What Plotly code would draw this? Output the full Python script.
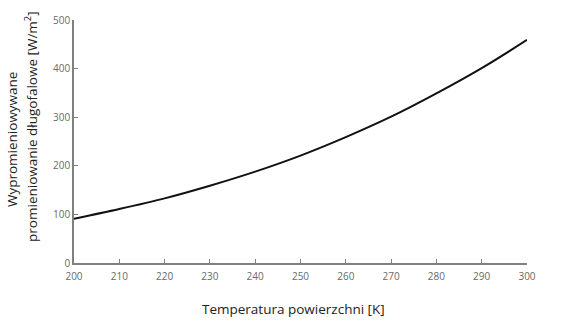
import plotly.graph_objects as go

# Surface temperature [K] and emitted longwave radiation [W/m²]
temperatura = [200, 210, 220, 230, 240, 250, 260, 270, 280, 290, 300]
promieniowanie = [91, 111, 133, 159, 188, 221, 259, 301, 349, 401, 459]

x_ticks = [200, 210, 220, 230, 240, 250, 260, 270, 280, 290, 300]
y_ticks = [0, 100, 200, 300, 400, 500]

axis_color = "#808080"
tick_font = dict(family="Open Sans, DejaVu Sans, sans-serif", size=10, color="#6a6a6a")
title_font = dict(family="Open Sans, DejaVu Sans, sans-serif", size=13.5, color="#222222")

fig = go.Figure()
fig.add_trace(go.Scatter(
    x=temperatura, y=promieniowanie, mode="lines",
    line=dict(color="#111111", width=2, shape="spline"),
    showlegend=False, hoverinfo="skip",
))

fig.update_layout(
    width=570, height=324,
    margin=dict(l=74, r=43, t=14, b=61),
    paper_bgcolor="white", plot_bgcolor="white",
    xaxis=dict(
        range=[200, 300], tickvals=x_ticks, ticktext=[str(v) for v in x_ticks],
        showgrid=False, zeroline=False, showline=True, linecolor=axis_color, linewidth=1.5,
        ticks="inside", ticklen=4, tickcolor=axis_color, tickfont=tick_font,
        ticklabelstandoff=3,
    ),
    yaxis=dict(
        range=[0, 500], tickvals=y_ticks, ticktext=[str(v) for v in y_ticks],
        showgrid=False, zeroline=False, showline=True, linecolor=axis_color, linewidth=1.5,
        ticks="inside", ticklen=4, tickcolor=axis_color, tickfont=tick_font,
    ),
    annotations=[
        dict(text="Temperatura powierzchni [K]", xref="paper", yref="paper",
             x=0.485, y=0, yshift=-46, showarrow=False, font=title_font,
             xanchor="center", yanchor="middle"),
        dict(text="Wypromieniowywane",
             xref="paper", yref="paper", x=0, xshift=-62, y=0.506,
             showarrow=False, font=title_font, textangle=-90,
             xanchor="center", yanchor="middle"),
        dict(text="promieniowanie długofalowe [W/m<sup>2</sup>]",
             xref="paper", yref="paper", x=0, xshift=-43, y=0.56,
             showarrow=False, font=title_font, textangle=-90,
             xanchor="center", yanchor="middle"),
    ],
)

fig.write_html("out.html")
